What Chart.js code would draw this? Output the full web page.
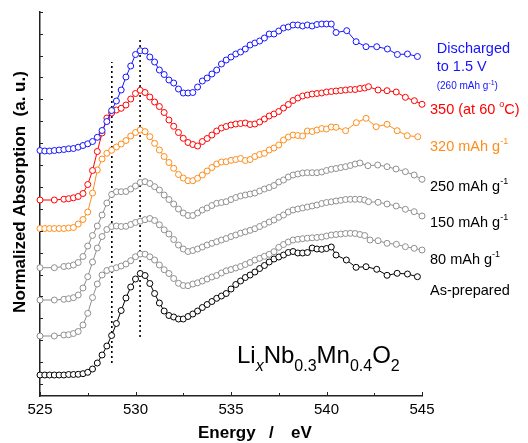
<!DOCTYPE html>
<html>
<head>
<meta charset="utf-8">
<script src="https://cdn.jsdelivr.net/npm/chart.js@4.4.1/dist/chart.umd.min.js"></script>
<style>
  html, body { margin: 0; padding: 0; background: #fff; }
  #wrap { width: 528px; height: 443px; }
</style>
</head>
<body>
<div id="wrap"><canvas id="xas" width="528" height="443"></canvas></div>
<script>
// O K-edge XAS, LixNb0.3Mn0.4O2, spectri sfalsati in verticale (a.u.)

// --- dati: energia (eV) della parte fitta, comune a tutte le curve ---
const energy = [
  525.0, 525.25, 525.5, 525.75, 526.0, 526.25, 526.5, 526.75,
  527.0, 527.25, 527.5, 527.75, 528.0, 528.25, 528.5, 528.75,
  529.0, 529.25, 529.5, 529.75, 530.0, 530.25, 530.5, 530.75,
  531.0, 531.25, 531.5, 531.75, 532.0, 532.25, 532.5, 532.75,
  533.0, 533.25, 533.5, 533.75, 534.0, 534.25, 534.5, 534.75,
  535.0, 535.25, 535.5, 535.75, 536.0, 536.25, 536.5, 536.75,
  537.0, 537.25, 537.5, 537.75, 538.0, 538.25, 538.5, 538.75,
  539.0, 539.25, 539.5, 539.75, 540.0, 540.25, 540.5
];

const blue = [
  24.55, 24.5, 24.5, 24.55, 24.6, 24.65, 24.72, 24.75,
  24.88, 25.05, 25.22, 25.45, 25.87, 26.55, 27.45, 28.55,
  29.5, 30.6, 31.9, 33.0, 34.15, 34.53, 34.5, 33.9,
  33.4, 32.6, 32.15, 31.6, 31.3, 30.7, 30.3, 30.3,
  30.35, 30.9, 31.5, 31.8, 32.2, 32.6, 33.2, 33.6,
  33.9, 34.2, 34.4, 34.7, 35.1, 35.3, 35.5, 35.8,
  36.2, 36.2, 36.5, 36.8, 36.9, 37.1, 37.1, 37.0,
  37.1, 37.0, 37.15, 37.2, 37.2, 37.2, 36.35
];
const red = [
  19.6, null, null, 19.6, null, 19.68, 19.73, 19.82,
  19.95, 20.25, 21.15, 22.55, 24.45, 26.3, 27.8, 28.3,
  28.6, 28.77, 29.1, 29.7, 30.25, 30.57, 30.35, 29.9,
  29.4, 28.95, 28.35, 27.6, 26.97, 26.35, 25.77, 25.35,
  25.15, 25.0, 25.45, 25.75, 26.1, 26.5, 26.8, 26.95,
  27.1, 27.2, 27.25, 27.3, 27.15, 27.2, 27.4, 27.7,
  28.0, 28.2, 28.45, 28.8, 29.15, 29.55, 29.8, 30.0,
  30.1, 30.2, 30.25, 30.3, 30.4, 30.45, 30.5
];
const orange = [
  16.75, 16.75, 16.75, 16.75, 16.75, 16.75, 16.8, 16.85,
  17.2, 17.65, 18.4, 20.3, 22.6, 23.7, 24.27, 24.57,
  24.9, 25.2, 25.55, 26.0, 26.35, 26.6, 26.43, 25.93,
  25.27, 24.6, 23.95, 23.35, 22.77, 22.15, 21.8, 21.53,
  21.53, 21.77, 22.1, 22.5, 22.85, 23.2, 23.4, 23.43,
  23.57, 23.65, 23.75, 23.55, 23.65, 23.95, 24.15, 24.27,
  24.6, 24.8, 25.1, 25.6, 25.9, 26.1, 26.05, 26.0,
  26.5, 26.45, 26.6, 26.75, 26.7, 26.9, 26.87
];
const g250 = [
  12.83, null, null, 12.83, null, 12.95, 13.0, 13.1,
  13.35, 13.95, 15.0, 16.05, 17.0, 18.1, 19.3, 20.15,
  20.43, 20.43, 20.45, 20.7, 21.0, 21.35, 21.43, 21.25,
  20.93, 20.6, 20.1, 19.65, 19.2, 18.7, 18.3, 18.05,
  18.05, 18.3, 18.6, 18.8, 19.05, 19.27, 19.35, 19.43,
  19.65, 19.85, 20.0, 20.1, 20.2, 20.3, 20.5, 20.7,
  20.85, 21.05, 21.4, 21.6, 21.9, 22.1, 22.2, 22.3,
  22.33, 22.33, 22.33, 22.4, 22.55, 22.67, 22.75
];
const g150 = [
  9.6, null, null, 9.6, null, 9.67, 9.73, 9.83,
  10.1, 10.8, 11.93, 13.4, 14.8, 15.95, 16.65, 16.95,
  17.0, 16.95, 16.97, 17.15, 17.35, 17.48, 17.63, 17.75,
  17.55, 17.12, 16.62, 16.2, 15.65, 15.1, 14.7, 14.45,
  14.55, 14.7, 14.9, 15.1, 15.27, 15.43, 15.6, 15.75,
  15.95, 16.1, 16.28, 16.42, 16.57, 16.73, 16.95, 17.17,
  17.4, 17.6, 17.87, 18.1, 18.4, 18.6, 18.7, 18.8,
  18.9, 19.0, 19.1, 19.25, 19.35, 19.42, 19.5
];
const g80 = [
  6.0, null, null, 6.0, null, 6.1, 6.13, 6.25,
  6.45, 7.1, 8.27, 9.85, 11.2, 12.1, 12.55, 12.7,
  12.83, 13.0, 13.2, 13.53, 13.93, 14.2, 14.18, 13.92,
  13.6, 13.1, 12.63, 12.25, 11.75, 11.27, 11.05, 11.03,
  11.2, 11.32, 11.5, 11.7, 11.9, 12.05, 12.3, 12.52,
  12.65, 12.8, 12.95, 13.15, 13.35, 13.6, 13.77, 13.97,
  14.17, 14.43, 14.87, 15.15, 15.4, 15.6, 15.67, 15.73,
  15.78, 15.82, 15.85, 15.9, 16.0, 16.1, 16.15
];
const black = [
  2.1, 2.1, 2.1, 2.1, 2.1, 2.1, 2.15, 2.15,
  2.17, 2.23, 2.37, 2.7, 3.3, 4.1, 5.0, 6.05,
  7.25, 8.55, 9.8, 10.9, 11.7, 12.25, 12.05, 11.25,
  10.25, 9.3, 8.5, 8.05, 7.9, 7.7, 7.7, 7.95,
  8.2, 8.5, 8.85, 9.15, 9.45, 9.77, 10.0, 10.25,
  10.7, 11.15, 11.5, 11.85, 12.1, 12.4, 12.75, 13.05,
  13.4, 13.7, 13.9, 14.1, 14.35, 14.45, 14.3, 14.3,
  14.35, 14.8, 14.7, 14.67, 14.75, 14.9, 14.1
];

// --- code rade (passo ~0.5 eV) oltre la parte fitta ---
const blueTailE   = [541.06, 541.55, 542.07, 542.63, 543.19, 543.71, 544.24, 544.76];
const blueTailY   = [36.53, 35.43, 34.93, 34.93, 34.7, 34.15, 34.2, 33.95];
const redTailE    = [540.75, 541.0, 541.25, 541.5, 541.75, 542.0, 542.2, 542.7, 543.17, 543.65, 544.13, 544.6, 545.0];
const redTailY    = [30.55, 30.6, 30.65, 30.65, 30.75, 30.8, 30.93, 30.6, 30.53, 30.4, 29.87, 29.53, 29.17];
const orangeTailE = [541.0, 541.56, 542.07, 542.6, 543.17, 543.7, 544.23, 544.78];
const orangeTailY = [26.53, 27.33, 27.77, 26.93, 27.17, 26.53, 26.03, 25.93];
const g250TailE   = [540.75, 541.0, 541.25, 541.5, 541.75, 542.17, 542.68, 543.17, 543.64, 544.13, 544.59, 545.0];
const g250TailY   = [22.85, 22.93, 23.05, 23.2, 23.3, 23.03, 23.1, 22.93, 22.7, 22.43, 22.1, 21.67];
const g150TailE   = [540.75, 541.0, 541.25, 541.5, 541.75, 542.0, 542.2, 542.7, 543.17, 543.65, 544.13, 544.59, 545.0];
const g150TailY   = [19.57, 19.65, 19.67, 19.67, 19.67, 19.6, 19.43, 19.37, 19.2, 19.0, 18.67, 18.43, 18.0];
const g80TailE    = [540.75, 541.0, 541.25, 541.5, 541.75, 542.0, 542.28, 542.7, 543.17, 543.66, 544.13, 544.59, 545.0];
const g80TailY    = [16.2, 16.25, 16.27, 16.25, 16.15, 16.05, 15.6, 15.53, 15.27, 15.17, 14.93, 14.77, 14.6];
const blackTailE  = [541.04, 541.55, 542.07, 542.63, 543.17, 543.7, 544.24, 544.76];
const blackTailY  = [13.6, 12.87, 12.93, 12.67, 12.07, 12.27, 12.2, 11.93];

// linee tratteggiate verticali (eV, da y a y)
const guideE = [528.76, 530.24];
const guideLo = [3.3, 5.9];
const guideHi = [33.4, 35.9];

const xTickVals = [525, 527.5, 530, 532.5, 535, 537.5, 540, 542.5, 545];
const yTickVals = [1.2, 3.39, 5.58, 7.77, 9.96, 12.15, 14.34, 16.53, 18.72, 20.91,
                   23.1, 25.29, 27.48, 29.67, 31.86, 34.05, 36.24, 38.43];

const FONT = "'Liberation Sans', Arial, Helvetica, sans-serif";
const GRAY = "#8f8f8f";

function series(ys, tailE, tailY, color){
  const pts = energy.map((x, i) => ({ x, y: ys[i] }));
  tailE.forEach((x, i) => pts.push({ x, y: tailY[i] }));
  return {
    data: pts, borderColor: color, borderWidth: 1,
    pointRadius: 3, pointBorderWidth: 1, pointBorderColor: color,
    pointBackgroundColor: "#fff", pointHoverRadius: 3,
    spanGaps: true, clip: false, tension: 0
  };
}
function guide(i){
  return {
    data: [{ x: guideE[i], y: guideLo[i] }, { x: guideE[i], y: guideHi[i] }],
    borderColor: "#000", borderWidth: 1.6, borderDash: [2, 3],
    pointRadius: 0, clip: false
  };
}

// testo con pedici/apici: parti [testo, size, dy, colore, corsivo]
function rich(ctx, x, y, parts){
  parts.forEach(p => {
    ctx.font = (p[4] ? "italic " : "") + p[1] + "px " + FONT;
    ctx.fillStyle = p[3];
    ctx.fillText(p[0], x, y + p[2]);
    x += ctx.measureText(p[0]).width;
  });
}

const decor = {
  id: "decor",
  afterDraw(chart){
    const ctx = chart.ctx, xs = chart.scales.x, ys = chart.scales.y;
    const a = chart.chartArea;
    ctx.save();
    // tacche verso l'interno
    ctx.strokeStyle = "#222"; ctx.lineWidth = 1;
    xTickVals.forEach(v => {
      const px = Math.round(xs.getPixelForValue(v)) + 0.5;
      const len = (v % 5 === 0) ? 4 : 3;
      ctx.beginPath(); ctx.moveTo(px, a.bottom); ctx.lineTo(px, a.bottom - len); ctx.stroke();
    });
    yTickVals.forEach(v => {
      const py = Math.round(ys.getPixelForValue(v)) + 0.5;
      ctx.beginPath(); ctx.moveTo(a.left, py); ctx.lineTo(a.left + 3, py); ctx.stroke();
    });

    ctx.textAlign = "left"; ctx.textBaseline = "alphabetic";
    // titoli assi
    ctx.fillStyle = "#000";
    ctx.font = "bold 17px " + FONT;
    ctx.fillText("Energy", 198, 438);
    ctx.fillText("/", 269, 438);
    ctx.fillText("eV", 291, 438);
    ctx.save();
    ctx.translate(25, 192); ctx.rotate(-Math.PI / 2);
    ctx.textAlign = "center";
    ctx.fillText("Normalized Absorption  (a. u.)", 0, 0);
    ctx.restore();

    // etichette delle curve
    const S = 14.5, SUP = 9;
    rich(ctx, 436.7, 52.5, [["Discharged", S, 0, "#1414ff"]]);
    rich(ctx, 436.7, 70.5, [["to 1.5 V", S, 0, "#1414ff"]]);
    rich(ctx, 436.7, 88.5, [["(260 mAh g", 10, 0, "#1414ff"], ["-1", 7, -4, "#1414ff"], [")", 10, 0, "#1414ff"]]);
    rich(ctx, 430, 114.3, [["350 (at 60 ", S, 0, "#ff0000"], ["o", SUP, -7, "#ff0000"], ["C)", S, 0, "#ff0000"]]);
    rich(ctx, 430, 150.5, [["320 mAh g", S, 0, "#ff8c1a"], ["-1", SUP, -7, "#ff8c1a"]]);
    rich(ctx, 430, 191, [["250 mAh g", S, 0, "#000"], ["-1", SUP, -7, "#000"]]);
    rich(ctx, 430, 227, [["150 mAh g", S, 0, "#000"], ["-1", SUP, -7, "#000"]]);
    rich(ctx, 430, 264.3, [["80 mAh g", S, 0, "#000"], ["-1", SUP, -7, "#000"]]);
    rich(ctx, 430, 295, [["As-prepared", S, 0, "#000"]]);

    // formula
    rich(ctx, 237, 363, [
      ["Li", 24, 0, "#000"], ["x", 16, 8, "#000", true],
      ["Nb", 24, 0, "#000"], ["0.3", 16, 8, "#000"],
      ["Mn", 24, 0, "#000"], ["0.4", 16, 8, "#000"],
      ["O", 24, 0, "#000"], ["2", 16, 8, "#000"]
    ]);
    ctx.restore();
  }
};

new Chart(document.getElementById("xas"), {
  type: "line",
  data: {
    datasets: [
      series(blue, blueTailE, blueTailY, "#1414ff"),
      series(red, redTailE, redTailY, "#ff0000"),
      series(orange, orangeTailE, orangeTailY, "#ff8c1a"),
      series(g250, g250TailE, g250TailY, GRAY),
      series(g150, g150TailE, g150TailY, GRAY),
      series(g80, g80TailE, g80TailY, GRAY),
      series(black, blackTailE, blackTailY, "#000"),
      guide(0), guide(1)
    ]
  },
  options: {
    responsive: false, animation: false, devicePixelRatio: 1,
    layout: { padding: { top: 12, right: 106, left: 0, bottom: 0 } },
    plugins: { legend: { display: false }, tooltip: { enabled: false } },
    scales: {
      x: {
        type: "linear", min: 525, max: 545,
        grid: { drawOnChartArea: false, drawTicks: false },
        border: { display: true, color: "#222", width: 1.5 },
        ticks: {
          stepSize: 2.5, padding: 5, color: "#000", font: { family: FONT, size: 15 },
          autoSkip: false, maxRotation: 0,
          callback: v => (v % 5 === 0 ? String(v) : "")
        },
        afterFit: s => { s.height = 47; }
      },
      y: {
        type: "linear", min: 0, max: 38.4,
        grid: { drawOnChartArea: false, drawTicks: false },
        border: { display: true, color: "#222", width: 1.5 },
        ticks: { display: false },
        afterFit: s => { s.width = 40; }
      }
    }
  },
  plugins: [decor]
});
</script>
</body>
</html>
